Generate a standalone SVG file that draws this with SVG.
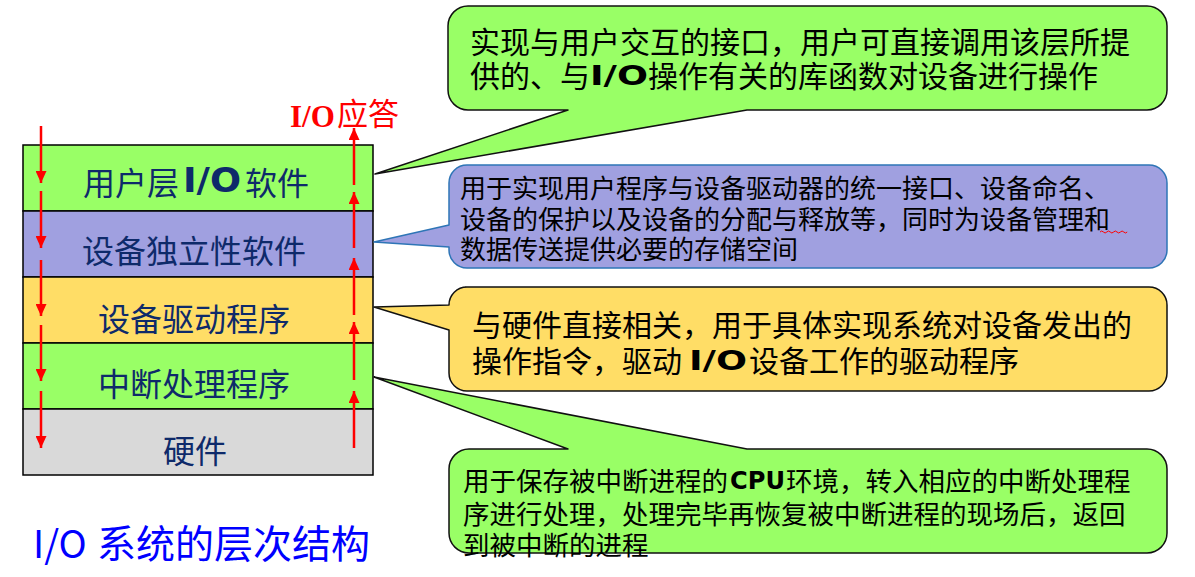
<svg xmlns="http://www.w3.org/2000/svg" width="1195" height="577" viewBox="0 0 1195 577">
<style>
.cjk{font-family:"Noto Sans CJK SC","Noto Sans",sans-serif}
.io{font-family:"DejaVu Sans",sans-serif;font-weight:bold}
.layer{stroke:#000;stroke-width:1.5}
.ltxt{font-size:32px;fill:#0E2A6A}
.ctxt{fill:#000}
.arr{stroke:#FF0000;stroke-width:2.5;fill:none;marker-end:url(#ah)}
.co{stroke-width:1.5;stroke-linejoin:round}
</style>
<defs>
<marker id="ah" markerUnits="userSpaceOnUse" markerWidth="12" markerHeight="11" refX="12" refY="5.5" orient="auto">
<path d="M0,0 L12,5.5 L0,11 Z" fill="#FF0000"/>
</marker>
</defs>
<rect width="1195" height="577" fill="#fff"/>

<g id="layer-user">
<rect class="layer" x="23" y="145" width="350" height="66" fill="#99FF66"/>
<text class="cjk ltxt" x="83" y="195">用户层</text>
<text class="io" x="183" y="192" font-size="33" fill="#0E2A6A" textLength="58" lengthAdjust="spacingAndGlyphs">I/O</text>
<text class="cjk ltxt" x="245" y="195">软件</text>
</g>
<g id="layer-indep">
<rect class="layer" x="23" y="211" width="350" height="66" fill="#A0A0E0"/>
<text class="cjk ltxt" x="194" y="263" text-anchor="middle">设备独立性软件</text>
</g>
<g id="layer-driver">
<rect class="layer" x="23" y="277" width="350" height="66" fill="#FFDD66"/>
<text class="cjk ltxt" x="194" y="331" text-anchor="middle">设备驱动程序</text>
</g>
<g id="layer-irq">
<rect class="layer" x="23" y="343" width="350" height="66" fill="#99FF66"/>
<text class="cjk ltxt" x="194" y="396" text-anchor="middle">中断处理程序</text>
</g>
<g id="layer-hw">
<rect class="layer" x="23" y="409" width="350" height="66" fill="#D9D9D9"/>
<text class="cjk ltxt" x="195" y="463" text-anchor="middle">硬件</text>
</g>

<g id="connectors">
<line class="arr" x1="41" y1="126" x2="41" y2="183"/>
<line class="arr" x1="41" y1="191" x2="41" y2="248"/>
<line class="arr" x1="41" y1="260" x2="41" y2="316"/>
<line class="arr" x1="41" y1="325" x2="41" y2="381"/>
<line class="arr" x1="41" y1="391" x2="41" y2="448"/>
<line class="arr" x1="354" y1="448" x2="354" y2="391"/>
<line class="arr" x1="354" y1="380" x2="354" y2="322"/>
<line class="arr" x1="354" y1="315" x2="354" y2="258"/>
<line class="arr" x1="354" y1="248" x2="354" y2="192"/>
<line class="arr" x1="354" y1="185" x2="354" y2="128"/>
</g>

<g id="io-answer">
<text x="290" y="127" font-family="Liberation Serif,serif" font-weight="bold" font-size="31" fill="#FF0000">I/O</text>
<text class="cjk" x="337" y="125" font-size="31" fill="#FF0000">应答</text>
</g>

<g id="callout-user">
<path class="co" fill="#99FF66" stroke="#111" d="M468,6 H1147 A20,20 0 0 1 1167,26 V90 A20,20 0 0 1 1147,110 H747 L375,174 L568,110 H468 A20,20 0 0 1 448,90 V26 A20,20 0 0 1 468,6 Z"/>
<text class="cjk ctxt" x="470" y="53" font-size="30">实现与用户交互的接口，用户可直接调用该层所提</text>
<text class="cjk ctxt" x="470" y="87" font-size="30">供的、与</text>
<text class="io" x="590" y="85" font-size="27" textLength="58" lengthAdjust="spacingAndGlyphs">I/O</text>
<text class="cjk ctxt" x="648" y="87" font-size="30">操作有关的库函数对设备进行操作</text>
</g>

<g id="callout-indep">
<path class="co" fill="#A0A0E0" stroke="#2E75B6" d="M467,165 H1149 A18,18 0 0 1 1167,183 V250 A18,18 0 0 1 1149,268 H467 A18,18 0 0 1 449,250 V247 L374,242 L449,225 V183 A18,18 0 0 1 467,165 Z"/>
<text class="cjk ctxt" x="460" y="198" font-size="26">用于实现用户程序与设备驱动器的统一接口、设备命名、</text>
<text class="cjk ctxt" x="460" y="229" font-size="26">设备的保护以及设备的分配与释放等，同时为设备管理和</text>
<text class="cjk ctxt" x="460" y="259" font-size="26">数据传送提供必要的存储空间</text>
<path d="M1100,232 q1.7,-2 3.4,0 t3.4,0 t3.4,0 t3.4,0 t3.4,0 t3.4,0 t3.4,0 t3.4,0" fill="none" stroke="#FF0000" stroke-width="1"/>
</g>

<g id="callout-driver">
<path class="co" fill="#FFDD66" stroke="#111" d="M465,287 H1149 A18,18 0 0 1 1167,305 V373 A18,18 0 0 1 1149,391 H467 A18,18 0 0 1 449,373 V330 L374,307 L449,305 A18,18 0 0 1 467,287 Z"/>
<text class="cjk ctxt" x="472" y="336" font-size="30">与硬件直接相关，用于具体实现系统对设备发出的</text>
<text class="cjk ctxt" x="472" y="372" font-size="30">操作指令，驱动</text>
<text class="io" x="689" y="370" font-size="27" textLength="58" lengthAdjust="spacingAndGlyphs">I/O</text>
<text class="cjk ctxt" x="749" y="372" font-size="30">设备工作的驱动程序</text>
</g>

<g id="callout-irq">
<path class="co" fill="#99FF66" stroke="#111" d="M469,449 H568 L374,377 L747,449 H1147 A20,20 0 0 1 1167,469 V533 A20,20 0 0 1 1147,553 H469 A20,20 0 0 1 449,533 V469 A20,20 0 0 1 469,449 Z"/>
<text class="cjk ctxt" x="463" y="491" font-size="26.5">用于保存被中断进程的</text>
<text class="io" x="730" y="489" font-size="25" textLength="55" lengthAdjust="spacingAndGlyphs">CPU</text>
<text class="cjk ctxt" x="786" y="491" font-size="26.5">环境，转入相应的中断处理程</text>
<text class="cjk ctxt" x="463" y="524" font-size="26.5">序进行处理，处理完毕再恢复被中断进程的现场后，返回</text>
<text class="cjk ctxt" x="463" y="555" font-size="26.5">到被中断的进程</text>
</g>

<g id="title">
<text class="cjk" x="33" y="558" font-size="38" fill="#0000FF">I/O</text>
<text class="cjk" x="97" y="558" font-size="39" fill="#0000FF">系统的层次结构</text>
</g>
</svg>
